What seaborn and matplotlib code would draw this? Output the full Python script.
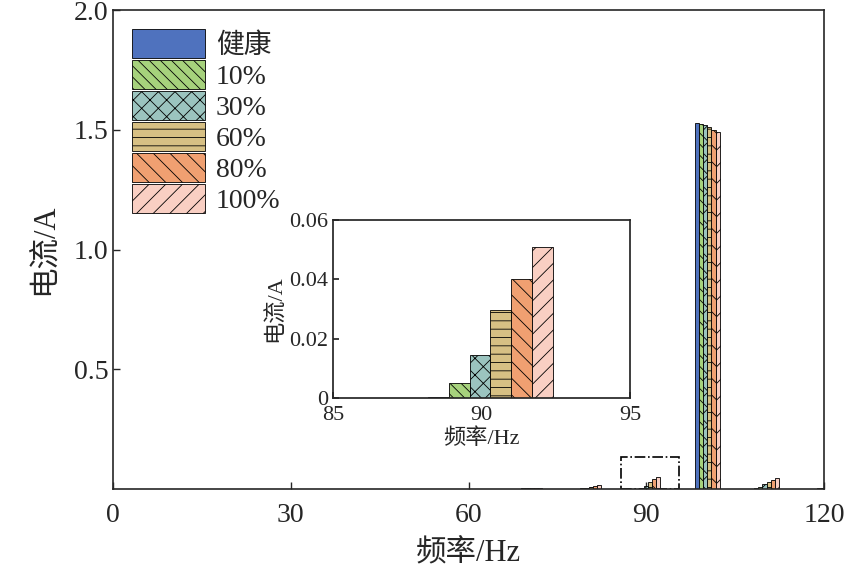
import numpy as np
import matplotlib
matplotlib.use("Agg")
import matplotlib.pyplot as plt
import seaborn as sns
from matplotlib.patches import Rectangle

# data
freqs = [50, 60, 70, 80, 90, 100, 110, 120]
levels = ['健康', '10%', '30%', '60%', '80%', '100%']
current = {
    '健康': [0.002, 0.001, 0.002, 0.002, 0.0005, 1.530, 0.003, 0.002],
    '10%':  [0.002, 0.001, 0.003, 0.004, 0.005, 1.525, 0.010, 0.003],
    '30%':  [0.002, 0.001, 0.004, 0.006, 0.0145, 1.520, 0.020, 0.004],
    '60%':  [0.002, 0.001, 0.005, 0.009, 0.0295, 1.510, 0.030, 0.005],
    '80%':  [0.002, 0.001, 0.006, 0.012, 0.040, 1.500, 0.038, 0.006],
    '100%': [0.002, 0.001, 0.006, 0.015, 0.051, 1.490, 0.045, 0.008],
}
colors = ['#4f72be', '#a6d27c', '#9bc4bf', '#d7c084', '#f0a071', '#f9cfc3']
hatches = ['', '\\\\\\', 'xx', '--', '\\\\', '//']

sns.set_theme(style="ticks")
plt.rcParams['font.family'] = ['Liberation Serif', 'Noto Sans CJK SC']
plt.rcParams['hatch.linewidth'] = 0.6
plt.rcParams['xtick.direction'] = 'in'
plt.rcParams['ytick.direction'] = 'in'

fig = plt.figure(figsize=(8.52, 5.86), dpi=100)
ax = fig.add_axes([113/852, 1 - 489/586, 711/852, 479/586])

bw = 0.7
start = -1.8

def draw(a):
    for i, lv in enumerate(levels):
        x = np.array(freqs) + start + i * bw
        a.bar(x, current[lv], width=bw, align='edge', color=colors[i],
              edgecolor='black', linewidth=0.6, hatch=hatches[i], label=lv)

draw(ax)
ax.set_xlim(0, 120)
ax.set_ylim(0, 2.0)
ax.set_xticks([0, 30, 60, 90, 120])
ax.set_yticks([0.5, 1.0, 1.5, 2.0])
ax.set_yticklabels(['0.5', '1.0', '1.5', '2.0'])
ax.tick_params(labelsize=20, length=5, width=1)
for s in ax.spines.values():
    s.set_linewidth(1.2)
ax.set_xlabel('频率/Hz', fontsize=22, labelpad=8)
ax.set_ylabel('电流/A', fontsize=22, labelpad=10)
ax.tick_params(axis='x', pad=10)
ax.legend(loc='upper left', frameon=False, fontsize=20, handlelength=2.6,
          handleheight=1.2, labelspacing=0.05, borderaxespad=0.3, handletextpad=0.4)

# dashed zoom box
ax.add_patch(Rectangle((85.7, 0), 9.8, 0.135, fill=False, ls='-.', lw=1.2, ec='black'))

# inset
ins = fig.add_axes([333/852, 1 - 398/586, 297/852, 178/586])
draw(ins)
ins.set_xlim(85, 95)
ins.set_ylim(0, 0.06)
ins.set_xticks([85, 90, 95])
ins.set_yticks([0, 0.02, 0.04, 0.06])
ins.set_yticklabels(['0', '0.02', '0.04', '0.06'])
ins.tick_params(labelsize=16, length=4)
ins.tick_params(axis='x', pad=6)
ins.set_xlabel('频率/Hz', fontsize=16, labelpad=2)
ins.set_ylabel('电流/A', fontsize=16, labelpad=2)

fig.savefig('out.png', dpi=100)
